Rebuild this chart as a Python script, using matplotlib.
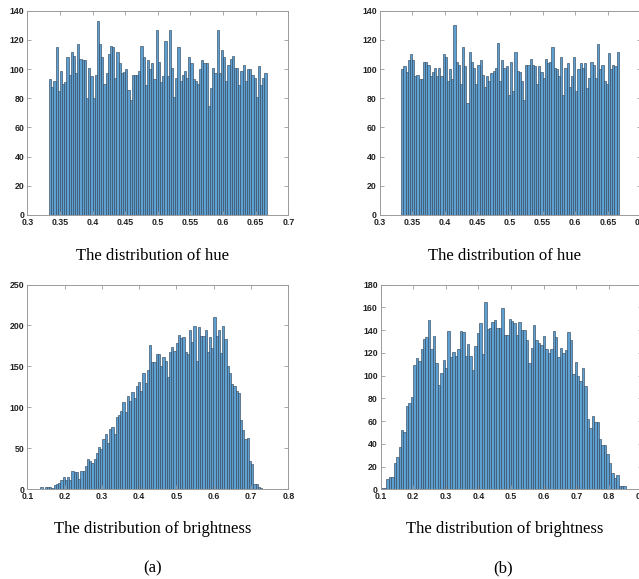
import numpy as np
import matplotlib
matplotlib.use("Agg")
import matplotlib.pyplot as plt

# ---------------- data ----------------
hue_a_range = (0.3333, 0.6667)
hue_a = [93, 88, 92, 115, 85, 99, 90, 91, 108, 96,
         112, 109, 97, 117, 107, 106, 106, 80, 101, 95,
         80, 96, 133, 117, 108, 90, 97, 110, 116, 115,
         94, 112, 104, 97, 98, 100, 86, 79, 96, 96,
         96, 99, 116, 108, 89, 106, 100, 104, 93, 127,
         105, 91, 95, 119, 95, 127, 101, 81, 94, 115,
         92, 96, 99, 94, 108, 104, 93, 92, 90, 100,
         106, 104, 104, 75, 87, 101, 97, 127, 97, 113,
         108, 92, 103, 107, 109, 101, 101, 89, 99, 103,
         92, 100, 100, 96, 94, 81, 102, 89, 94, 97]

hue_b_range = (0.3333, 0.6667)
hue_b = [100, 102, 98, 106, 110, 106, 95, 96, 93, 93,
         105, 105, 103, 95, 98, 101, 95, 101, 95, 110,
         108, 92, 100, 93, 130, 105, 103, 90, 115, 102,
         77, 112, 105, 101, 90, 103, 106, 96, 88, 95,
         92, 97, 99, 101, 118, 92, 106, 101, 102, 82,
         105, 85, 112, 99, 98, 92, 79, 103, 103, 107,
         103, 102, 90, 102, 98, 94, 107, 104, 105, 115,
         101, 100, 95, 108, 82, 101, 104, 88, 95, 108,
         85, 100, 104, 101, 104, 87, 94, 105, 103, 94,
         117, 100, 103, 92, 90, 111, 100, 103, 102, 112]

bright_a_range = (0.135, 0.73)
bright_a = [3, 0, 3, 3, 3, 1, 5, 7, 8, 11,
            15, 11, 15, 11, 22, 21, 21, 12, 22, 22,
            28, 37, 35, 32, 37, 44, 52, 49, 61, 67,
            57, 74, 76, 68, 88, 91, 96, 107, 94, 114,
            108, 119, 112, 126, 131, 120, 142, 130, 146, 176,
            155, 155, 165, 165, 151, 161, 157, 137, 168, 174,
            169, 178, 188, 185, 186, 167, 165, 194, 180, 199,
            157, 198, 187, 187, 194, 168, 186, 173, 210, 187,
            194, 166, 199, 184, 150, 142, 129, 126, 120, 118,
            85, 72, 61, 63, 35, 31, 6, 6, 3, 2]

bright_b_range = (0.103, 0.852)
bright_b = [1, 1, 9, 11, 11, 23, 28, 37, 52, 50, 73,
            76, 81, 109, 115, 113, 123, 132, 134, 149, 123,
            135, 111, 92, 102, 114, 107, 139, 116, 121, 117,
            123, 139, 138, 117, 128, 117, 105, 126, 137, 146,
            119, 165, 141, 142, 147, 149, 142, 142, 159, 136,
            136, 150, 148, 146, 136, 147, 140, 140, 131, 111,
            124, 144, 131, 129, 127, 135, 123, 120, 123, 139,
            134, 116, 124, 120, 122, 138, 131, 101, 112, 100,
            95, 107, 91, 62, 54, 64, 59, 59, 44, 39,
            39, 31, 23, 14, 10, 13, 3, 3, 3]

hue_xticks = [0.3, 0.35, 0.4, 0.45, 0.5, 0.55, 0.6, 0.65, 0.7]
hue_xlabels = ["0.3", "0.35", "0.4", "0.45", "0.5", "0.55", "0.6", "0.65", "0.7"]
bra_xticks = [0.1, 0.2, 0.3, 0.4, 0.5, 0.6, 0.7, 0.8]
brb_xticks = [0.1, 0.2, 0.3, 0.4, 0.5, 0.6, 0.7, 0.8, 0.9]

captions_top = "The distribution of hue"
captions_bottom = "The distribution of brightness"
panel_labels = ["(a)", "(b)"]

# ---------------- style ----------------
FACE = "#5fa0d3"
EDGE = "#35495e"
SPINE = "#9a9a9a"

fig = plt.figure(figsize=(6.39, 5.79), dpi=100)
W, H = 639.0, 579.0


def make_ax(x0, y_top, y_bot, width=261.0):
    return fig.add_axes([x0 / W, 1 - y_bot / H, width / W, (y_bot - y_top) / H])


def draw_hist(ax, values, rng, xlim, xticks, xlabels, ylim, ystep):
    values = np.asarray(values, dtype=float)
    edges = np.linspace(rng[0], rng[1], len(values) + 1)
    ax.bar(edges[:-1], values, width=np.diff(edges), align="edge",
           color=FACE, edgecolor=EDGE, linewidth=0.45)
    ax.set_xlim(*xlim)
    ax.set_ylim(0, ylim)
    ax.set_xticks(xticks)
    ax.set_xticklabels(xlabels)
    ax.set_yticks(np.arange(0, ylim + 1, ystep))
    for s in ax.spines.values():
        s.set_color(SPINE)
        s.set_linewidth(0.7)
    ax.tick_params(direction="in", top=True, right=True, length=3, width=0.6,
                   color=SPINE, labelsize=6.3, pad=2, labelcolor="#222222")
    for lab in ax.get_xticklabels() + ax.get_yticklabels():
        lab.set_fontweight("bold")
        lab.set_family("Liberation Sans")


ax1 = make_ax(27.3, 10.7, 215.0)
draw_hist(ax1, hue_a, hue_a_range, (0.3, 0.7), hue_xticks, hue_xlabels, 140, 20)

ax2 = make_ax(379.5, 10.7, 215.0)
draw_hist(ax2, hue_b, hue_b_range, (0.3, 0.7), hue_xticks, hue_xlabels, 140, 20)

ax3 = make_ax(27.3, 284.5, 489.3)
draw_hist(ax3, bright_a, bright_a_range, (0.1, 0.8), bra_xticks,
          [f"{t:g}" for t in bra_xticks], 250, 50)

ax4 = make_ax(380.5, 284.5, 489.3)
draw_hist(ax4, bright_b, bright_b_range, (0.1, 0.9), brb_xticks,
          [f"{t:g}" for t in brb_xticks], 180, 20)

serif = ["Liberation Serif", "DejaVu Serif"]
fig.text(153 / W, 1 - 256 / H, captions_top, ha="center", va="center",
         fontsize=12, family=serif)
fig.text(505 / W, 1 - 256 / H, captions_top, ha="center", va="center",
         fontsize=12, family=serif)
fig.text(153 / W, 1 - 529 / H, captions_bottom, ha="center", va="center",
         fontsize=12, family=serif)
fig.text(505 / W, 1 - 529 / H, captions_bottom, ha="center", va="center",
         fontsize=12, family=serif)
fig.text(153 / W, 1 - 568 / H, panel_labels[0], ha="center", va="center",
         fontsize=12, family=serif)
fig.text(503 / W, 1 - 568 / H, panel_labels[1], ha="center", va="center",
         fontsize=12, family=serif)

fig.savefig("out.png", dpi=100)
